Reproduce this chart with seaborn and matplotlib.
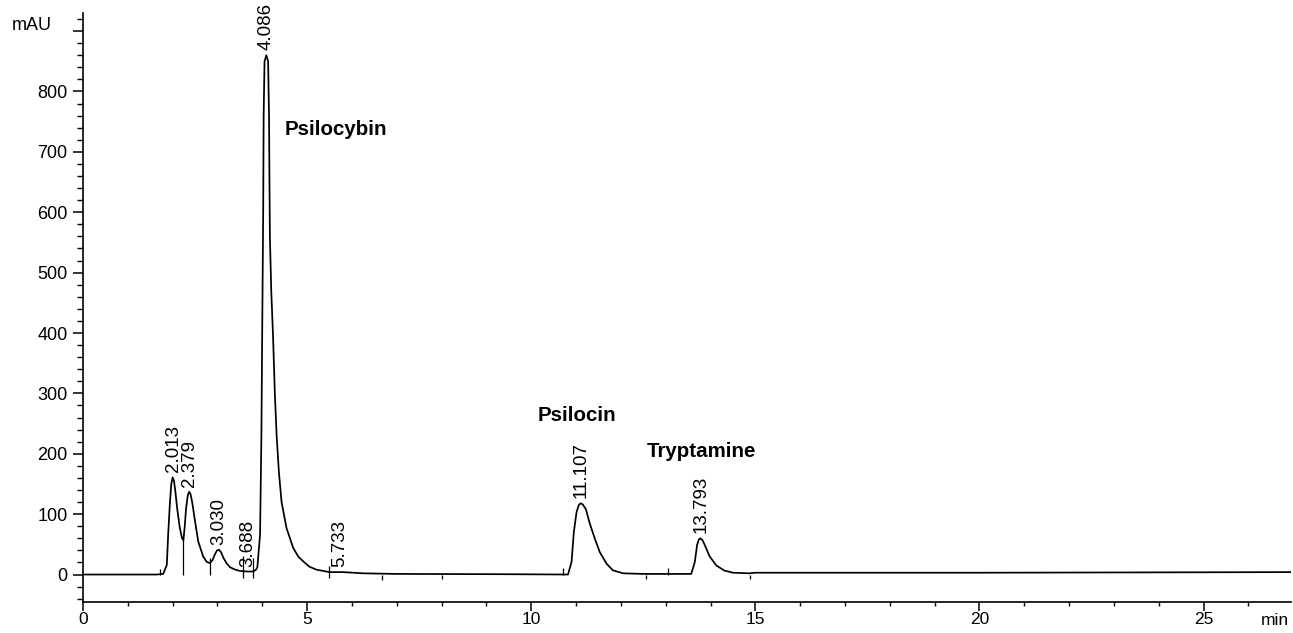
import matplotlib
matplotlib.use("Agg")
import matplotlib.pyplot as plt
import seaborn as sns
from matplotlib.ticker import MultipleLocator

# chromatogram trace: time (min) / absorbance (mAU)
trace_time = [0.00, 1.65, 1.79, 1.87, 1.90, 1.94, 1.97, 2.00, 2.03, 2.06, 2.10, 2.16,
              2.21, 2.24, 2.27, 2.30, 2.34, 2.37, 2.40, 2.44, 2.50, 2.57, 2.68, 2.76,
              2.83, 2.89, 2.94, 2.99, 3.03, 3.08, 3.13, 3.20, 3.28, 3.40, 3.50, 3.65,
              3.80, 3.86, 3.89, 3.95, 3.98, 4.00, 4.02, 4.03, 4.05, 4.09, 4.13, 4.15,
              4.16, 4.17, 4.20, 4.24, 4.28, 4.32, 4.37, 4.43, 4.54, 4.69, 4.80, 4.91,
              5.05, 5.21, 5.50, 5.80, 6.25, 7.00, 9.50, 10.82, 10.90, 10.95, 11.01, 11.06,
              11.10, 11.15, 11.22, 11.30, 11.42, 11.53, 11.68, 11.82, 12.05, 12.50, 13.57, 13.65,
              13.70, 13.74, 13.77, 13.82, 13.87, 13.98, 14.13, 14.31, 14.50, 14.87, 15.00, 20.00,
              26.95]
trace_mau = [0, 0, 1, 16, 66, 120, 150, 161, 155, 138, 110, 77,
             60, 57, 80, 110, 132, 137, 133, 118, 88, 55, 30, 21,
             19, 24, 33, 40, 41, 37, 28, 19, 12, 8, 6, 5,
             5, 8, 12, 66, 230, 420, 600, 760, 850, 860, 850, 760,
             650, 558, 470, 394, 300, 230, 170, 120, 77, 44, 30, 22,
             13, 8, 4, 4, 2, 1, 0.5, 0, 21, 70, 103, 115,
             118, 116, 108, 86, 59, 37, 18, 7, 2, 1, 1, 21,
             49, 58, 60, 57, 49, 30, 15, 6.5, 3, 2, 3, 3,
             4]

# labelled peaks (retention time, apex height)
peak_labels = ["2.013", "2.379", "3.030", "3.688", "4.086", "5.733", "11.107", "13.793"]
peak_rt = [2.013, 2.379, 3.030, 3.688, 4.086, 5.733, 11.107, 13.793]
peak_apex = [161, 137, 41, 5, 860, 4, 118, 60]

# compound names
compound_names = ["Psilocybin", "Psilocin", "Tryptamine"]
compound_t = [5.65, 11.01, 13.79]
compound_mau = [737, 263, 204]

# integration event marks (time, low end, high end)
mark_t = [1.72, 2.24, 2.83, 3.56, 3.80, 5.49, 6.67, 8.00, 10.71, 12.55, 13.04, 14.87]
mark_lo = [0, 0, 0, -5, -5, -5, -9, -7, 0, -8, 0, -8]
mark_hi = [9, 60, 28, 30, 28, 14, 0, 0, 11, 0, 11, 0]

x_major = [0, 5, 10, 15, 20, 25]
y_major = [0, 100, 200, 300, 400, 500, 600, 700, 800, 900]
y_labels = ["0", "100", "200", "300", "400", "500", "600", "700", "800", ""]

sns.set_theme(style="ticks")
plt.rcParams["font.family"] = ["Liberation Sans", "DejaVu Sans"]

W, H = 1293, 633
fig = plt.figure(figsize=(W / 100, H / 100), dpi=100)
bottom_px = 602
ax = fig.add_axes([83 / W, (H - bottom_px) / H, (1291 - 83) / W, (bottom_px - 13) / H])

sns.lineplot(x=trace_time, y=trace_mau, color="black", linewidth=1.25,
             estimator=None, sort=False, ax=ax)
ax.vlines(mark_t, mark_lo, mark_hi, color="black", linewidth=0.9)

for lab, t, h in zip(peak_labels, peak_rt, peak_apex):
    ax.annotate(lab, xy=(t, h), xytext=(0, 5), textcoords="offset pixels",
                rotation=90, ha="center", va="bottom", fontsize=13.5, color="black")

for name, t, v in zip(compound_names, compound_t, compound_mau):
    ax.text(t, v, name, ha="center", va="center", fontsize=14.8,
            fontweight="bold", color="black")

ax.set_xlim(0, 26.95)
ax.set_ylim(-45.5, 930)
ax.set_xticks(x_major)
ax.set_xticklabels([str(v) for v in x_major])
ax.set_yticks(y_major)
ax.set_yticklabels(y_labels)
ax.xaxis.set_minor_locator(MultipleLocator(1))
ax.yaxis.set_minor_locator(MultipleLocator(20))
ax.tick_params(which="major", direction="out", length=7, width=1.1,
               labelsize=13, color="black", labelcolor="black")
ax.tick_params(axis="x", which="major", length=6.5, pad=1, labelsize=12.5)
ax.tick_params(axis="y", which="major", pad=4)
ax.tick_params(axis="x", which="minor", direction="out", length=3, width=1, color="black")
ax.tick_params(axis="y", which="minor", direction="out", length=4.3, width=1, color="black")
ax.set_xlabel("")
ax.set_ylabel("")

sns.despine(ax=ax)
for side in ["left", "bottom"]:
    ax.spines[side].set_color("black")
    ax.spines[side].set_linewidth(1.2)
ax.grid(False)

ax.annotate("min", xy=(26.6, 0), xycoords=("data", "axes fraction"),
            xytext=(0, -7.8), textcoords="offset points", ha="center", va="top",
            fontsize=12.5, color="black")
fig.text(12 / W, 1 - 25 / H, "mAU", ha="left", va="center", fontsize=13, color="black")

fig.savefig("out.png", dpi=100, facecolor="white")
